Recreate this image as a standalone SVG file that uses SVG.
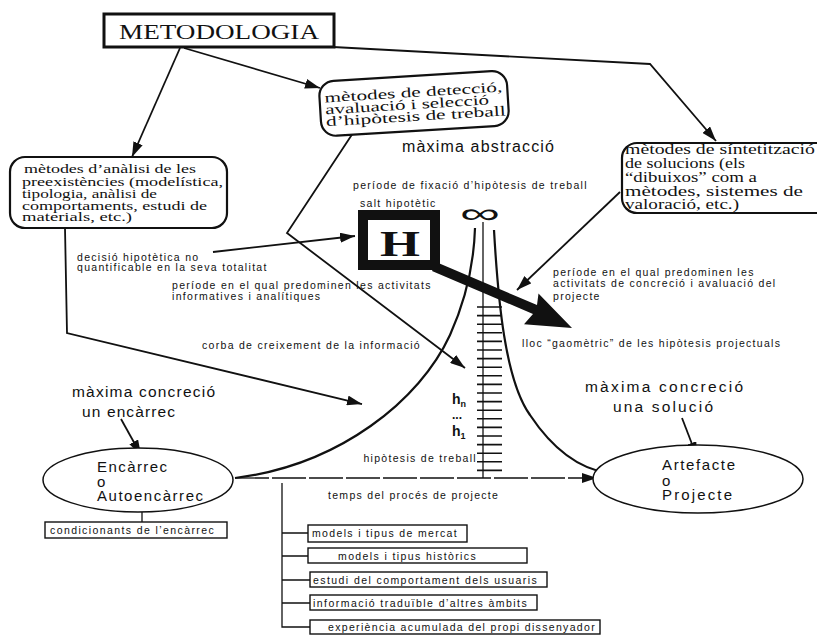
<svg xmlns="http://www.w3.org/2000/svg" width="817" height="640" viewBox="0 0 817 640">
<defs>
<marker id="ah" markerUnits="userSpaceOnUse" markerWidth="16" markerHeight="10" refX="15" refY="5" orient="auto">
<path d="M0,0 L15,5 L0,10 z" fill="#111"/>
</marker>
<style>
.ln{fill:none;stroke:#111;stroke-width:1.8}
.thin{fill:none;stroke:#111;stroke-width:1.3}
.rb{fill:#fff;stroke:#111;stroke-width:2.2}
.bx{fill:#fff;stroke:#111;stroke-width:1.4}
.sf{font-family:"Liberation Serif","Times New Roman",serif;fill:#111}
.ss{font-family:"Liberation Sans",Arial,sans-serif;fill:#111}
.s11{font-size:10.5px;letter-spacing:1.3px}
.s15{font-size:15px}
</style>
</defs>
<rect width="817" height="640" fill="#fff"/>

<g id="connectors">
<path class="ln" d="M180,48 L132,157" marker-end="url(#ah)"/>
<path class="ln" d="M184,48 L320,88" marker-end="url(#ah)"/>
<path class="ln" d="M333,47 L650,64 L716,141" marker-end="url(#ah)"/>
<path class="ln" d="M353,133 L287,233 L465,368" marker-end="url(#ah)"/>
<path class="ln" d="M65,228 L67,333 L362,404" marker-end="url(#ah)"/>
<path class="ln" d="M213,252 L355,236" marker-end="url(#ah)"/>
<path class="ln" d="M620,192 L517,290" marker-end="url(#ah)"/>
<path class="ln" d="M121,419 L141,455" marker-end="url(#ah)"/>
<path class="ln" d="M682,418 L697,457" marker-end="url(#ah)"/>
<path class="thin" d="M235,478 L597,478" stroke-dasharray="34 3" marker-end="url(#ah)"/>
<path class="thin" d="M483,222 L483,478"/>
<path fill="none" stroke="#111" stroke-width="2.2" d="M235,478 C340,465 420,400 450,335 C468,295 474,260 475,228"/>
<path fill="none" stroke="#111" stroke-width="2.2" d="M494,230 C498,300 505,380 530,415 C550,445 575,468 608,473"/>
<path class="thin" d="M282,483 L282,627 L310,627 M282,533 L308,533 M282,556 L308,556 M282,580 L310,580 M282,603 L310,603"/>
<path class="thin" d="M142,512 L142,522"/>
<polygon fill="#111" points="436,262 537,305 538.5,293.5 572,328 524,324.3 533,314 432,271"/>
</g>

<g id="ticks" stroke="#111" stroke-width="1.6">
<path d="M477,307H502M477,315.6H502M477,324.2H502M477,332.8H502M477,341.4H502M477,350H502M477,358.6H502M477,367.2H502M477,375.8H502M477,384.4H502M477,393H502M477,401.6H502M477,410.2H502M477,418.8H502M477,427.4H502M477,436H502M477,444.6H502M477,453.2H502M477,461.8H502M477,470.4H502"/>
</g>

<g id="metodologia">
<rect x="104" y="14" width="230" height="33" fill="#fff" stroke="#111" stroke-width="3"/>
<text class="sf" x="119" y="39" font-size="20" textLength="200" lengthAdjust="spacingAndGlyphs">METODOLOGIA</text>
</g>

<g id="box-analisi">
<rect class="rb" x="10" y="157" width="217" height="71" rx="15"/>
<text class="sf" font-size="13.5"><tspan x="24" y="173" textLength="172" lengthAdjust="spacingAndGlyphs">mètodes d’anàlisi de les</tspan><tspan x="22" y="186" textLength="201" lengthAdjust="spacingAndGlyphs">preexistències (modelística,</tspan><tspan x="22" y="198" textLength="135" lengthAdjust="spacingAndGlyphs">tipologia, anàlisi de</tspan><tspan x="22" y="210" textLength="185" lengthAdjust="spacingAndGlyphs">comportaments, estudi de</tspan><tspan x="22" y="221" textLength="110" lengthAdjust="spacingAndGlyphs">materials, etc.)</tspan></text>
</g>

<g id="box-deteccio" transform="rotate(-3.5 413 103)">
<rect class="rb" x="320" y="76" width="188" height="55" rx="15"/>
<text class="sf" font-size="14"><tspan x="325" y="97" textLength="178" lengthAdjust="spacingAndGlyphs">mètodes de detecció,</tspan><tspan x="325" y="109" textLength="164" lengthAdjust="spacingAndGlyphs">avaluació i selecció</tspan><tspan x="325" y="121" textLength="180" lengthAdjust="spacingAndGlyphs">d’hipòtesis de treball</tspan></text>
</g>

<g id="box-sintesi">
<rect class="rb" x="622" y="143" width="215" height="70" rx="15"/>
<text class="sf" font-size="15"><tspan x="625" y="154" textLength="190" lengthAdjust="spacingAndGlyphs">mètodes de síntetització</tspan><tspan x="625" y="168" textLength="120" lengthAdjust="spacingAndGlyphs">de solucions (els</tspan><tspan x="625" y="182" textLength="132" lengthAdjust="spacingAndGlyphs">“dibuixos” com a</tspan><tspan x="625" y="196" textLength="178" lengthAdjust="spacingAndGlyphs">mètodes, sistemes de</tspan><tspan x="625" y="209" textLength="114" lengthAdjust="spacingAndGlyphs">valoració, etc.)</tspan></text>
</g>

<g id="h-box">
<rect x="363" y="215" width="72" height="50" fill="#fff" stroke="#111" stroke-width="10"/>
<text class="sf" x="400" y="256" font-size="36" font-weight="bold" text-anchor="middle" textLength="40" lengthAdjust="spacingAndGlyphs">H</text>
</g>

<g id="infinity">
<text class="ss" x="480" y="223" font-size="28" text-anchor="middle" textLength="40" lengthAdjust="spacingAndGlyphs">∞</text>
</g>

<g id="labels" class="ss">
<text class="s11" x="353" y="189">període de fixació d’hipòtesis de treball</text>
<text class="s11" x="360" y="207">salt hipotètic</text>
<text class="s11" x="77" y="261">decisió hipotètica no</text>
<text class="s11" x="77" y="271">quantificable en la seva totalitat</text>
<text class="s11" x="172" y="289">període en el qual predominen les activitats</text>
<text class="s11" x="172" y="300">informatives i analítiques</text>
<text class="s11" x="202" y="349">corba de creixement de la informació</text>
<text class="s11" x="553" y="276">període en el qual predominen les</text>
<text class="s11" x="553" y="287">activitats de concreció i avaluació del</text>
<text class="s11" x="553" y="300">projecte</text>
<text class="s11" x="522" y="347">lloc “gaomètric” de les hipòtesis projectuals</text>
<text class="s11" x="477" y="462" text-anchor="end" letter-spacing="0.5">hipòtesis de treball</text>
<text class="s11" x="328" y="499">temps del procés de projecte</text>
<text x="402" y="152" font-size="16" textLength="152">màxima abstracció</text>
<text x="452" y="404" font-size="14" font-weight="bold">h<tspan font-size="9" dy="3">n</tspan></text>
<text x="452" y="419" font-size="12" font-weight="bold">...</text>
<text x="452" y="436" font-size="14" font-weight="bold">h<tspan font-size="9" dy="3">1</tspan></text>
<text x="72" y="397" font-size="15.5" textLength="143">màxima concreció</text>
<text x="82" y="417" font-size="15.5" textLength="93">un encàrrec</text>
<text x="585" y="392" font-size="15.5" textLength="158">màxima concreció</text>
<text x="613" y="412" font-size="15.5" textLength="100">una solució</text>
</g>

<g id="encarrec">
<ellipse cx="138" cy="480" rx="95" ry="32" fill="#fff" stroke="#111" stroke-width="1.5"/>
<text class="ss s15"><tspan x="97" y="472" textLength="70">Encàrrec</tspan><tspan x="97" y="487">o</tspan><tspan x="97" y="501" textLength="106">Autoencàrrec</tspan></text>
</g>

<g id="artefacte">
<ellipse cx="698" cy="479" rx="105" ry="34" fill="#fff" stroke="#111" stroke-width="1.5"/>
<text class="ss s15"><tspan x="662" y="470" textLength="73">Artefacte</tspan><tspan x="662" y="486">o</tspan><tspan x="662" y="500" textLength="70">Projecte</tspan></text>
</g>

<g id="condicionants">
<rect class="bx" x="45" y="522" width="182" height="16"/>
<text class="ss s11" x="50" y="534" textLength="165">condicionants de l’encàrrec</text>
</g>

<g id="item-1">
<rect class="bx" x="308" y="525" width="159" height="17"/>
<text class="ss s11" x="312" y="537" textLength="146">models i tipus de mercat</text>
</g>
<g id="item-2">
<rect class="bx" x="308" y="548" width="219" height="15"/>
<text class="ss s11" x="338" y="560" textLength="139">models i tipus històrics</text>
</g>
<g id="item-3">
<rect class="bx" x="310" y="572" width="237" height="15"/>
<text class="ss s11" x="313" y="584" textLength="225">estudi del comportament dels usuaris</text>
</g>
<g id="item-4">
<rect class="bx" x="310" y="595" width="227" height="15"/>
<text class="ss s11" x="313" y="607" textLength="215">informació traduïble d’altres àmbits</text>
</g>
<g id="item-5">
<rect class="bx" x="310" y="620" width="290" height="14"/>
<text class="ss s11" x="328" y="631" textLength="268">experiència acumulada del propi dissenyador</text>
</g>
</svg>
